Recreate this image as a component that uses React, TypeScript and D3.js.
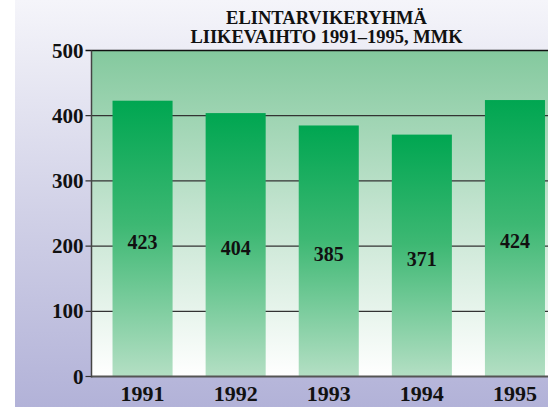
import React from "react";
import * as d3 from "d3";

const years = ["1991", "1992", "1993", "1994", "1995"];
const values = [423, 404, 385, 371, 424];
const yTicks = [0, 100, 200, 300, 400, 500];
const titleLines = ["ELINTARVIKERYHMÄ", "LIIKEVAIHTO 1991–1995, MMK"];

const W = 548;
const H = 407;
const FONT = "Liberation Serif, Times New Roman, serif";

export default function App() {
  const axisX = 91.5;
  const y = d3.scaleLinear().domain([0, 500]).range([376.5, 50.5]);
  const x = d3
    .scaleBand<string>()
    .domain(years)
    .range([96, 561.5])
    .paddingInner(0.355)
    .paddingOuter(0.1775);

  return (
    <svg
      width={W}
      height={H}
      style={{ position: "absolute", left: 0, top: 0, display: "block" }}
    >
      <defs>
        <linearGradient id="bg" x1="0" y1="0" x2="0" y2="1">
          <stop offset="0" stopColor="#f5f5fa" />
          <stop offset="0.55" stopColor="#cfcfe6" />
          <stop offset="1" stopColor="#b2b2d8" />
        </linearGradient>
        <linearGradient id="plot" x1="0" y1="0" x2="0" y2="1">
          <stop offset="0" stopColor="#84c99e" />
          <stop offset="0.5" stopColor="#c4e4d0" />
          <stop offset="1" stopColor="#ffffff" />
        </linearGradient>
        <linearGradient id="bar" x1="0" y1="0" x2="0" y2="1">
          <stop offset="0" stopColor="#00a651" />
          <stop offset="0.45" stopColor="#3db873" />
          <stop offset="1" stopColor="#b4dfc4" />
        </linearGradient>
      </defs>
      <rect x={0} y={0} width={W} height={H} fill="#ffffff" />
      <rect x={15} y={0} width={W - 15} height={H} fill="url(#bg)" />
      <rect
        x={axisX}
        y={y(500)}
        width={W - axisX}
        height={y(0) - y(500)}
        fill="url(#plot)"
      />
      {yTicks.map((t) => (
        <g key={t}>
          <line
            x1={axisX - 6}
            x2={t === 0 ? axisX : W}
            y1={y(t)}
            y2={y(t)}
            stroke={t === 500 ? "#111" : "#333"}
            strokeWidth={t === 500 ? 1.6 : 1.2}
          />
          <text
            x={83.5}
            y={y(t) + 7}
            textAnchor="end"
            fontFamily={FONT}
            fontWeight="bold"
            fontSize={21}
            fill="#111"
          >
            {t}
          </text>
        </g>
      ))}
      {years.map((yr, i) => (
        <rect
          key={yr}
          x={x(yr)}
          y={y(values[i])}
          width={x.bandwidth()}
          height={y(0) - y(values[i])}
          fill="url(#bar)"
        />
      ))}
      <line x1={axisX} x2={W} y1={y(0)} y2={y(0)} stroke="#555" strokeWidth={2} />
      <line x1={axisX} x2={axisX} y1={y(500)} y2={y(0) + 1} stroke="#444" strokeWidth={1.5} />
      {years.map((yr, i) => (
        <text
          key={"v" + yr}
          x={(x(yr) as number) + x.bandwidth() / 2}
          y={y(values[i] / 2) + 10}
          textAnchor="middle"
          fontFamily={FONT}
          fontWeight="bold"
          fontSize={20}
          fill="#111"
        >
          {values[i]}
        </text>
      ))}
      {years.map((yr) => (
        <text
          key={"l" + yr}
          x={(x(yr) as number) + x.bandwidth() / 2}
          y={400.7}
          textAnchor="middle"
          fontFamily={FONT}
          fontWeight="bold"
          fontSize={22}
          fill="#111"
        >
          {yr}
        </text>
      ))}
      {titleLines.map((line, i) => (
        <text
          key={line}
          x={326.5}
          y={24 + i * 19.3}
          textAnchor="middle"
          fontFamily={FONT}
          fontWeight="bold"
          fontSize={18.5}
          fill="#111"
        >
          {line}
        </text>
      ))}
    </svg>
  );
}
